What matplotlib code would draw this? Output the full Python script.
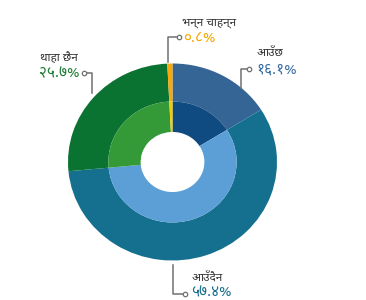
import matplotlib
matplotlib.use("Agg")
import matplotlib.pyplot as plt
from matplotlib.lines import Line2D

# ------------------------------------------------------------
# Data
# ------------------------------------------------------------
labels = ["आउँछ", "आउँदैन", "थाहा छैन", "भन्न चाहन्न"]
values = [16.1, 57.4, 25.7, 0.8]
pct_text = ["१६.१%", "५७.४%", "२५.७%", "०.८%"]

outer_colors = ["#356595", "#15708f", "#0b7332", "#f5a90f"]
inner_colors = ["#0f4a80", "#5b9fd6", "#339a37", "#f0cc00"]
text_colors = ["#3a6ea5", "#1a7090", "#1e7b34", "#f5a800"]

plt.rcParams["font.family"] = ["Noto Sans Devanagari", "DejaVu Sans"]

W, H = 366, 300
fig = plt.figure(figsize=(W / 100, H / 100), dpi=100)

# pie centre / radii in pixels
cx, cy = 172.5, 162
rx, ry = 104.5, 98.5
ax = fig.add_axes([(cx - rx) / W, (H - cy - ry) / H, 2 * rx / W, 2 * ry / H])

ax.pie(values, radius=1, colors=outer_colors, startangle=90, counterclock=False,
       wedgeprops=dict(width=1 - 0.614, linewidth=0))
ax.pie(values, radius=0.614, colors=inner_colors, startangle=90, counterclock=False,
       wedgeprops=dict(width=0.614 - 0.305, linewidth=0))
ax.set_aspect("auto")
ax.set_xlim(-1, 1)
ax.set_ylim(-1, 1)
ax.axis("off")


def fx(x):
    return x / W


def fy(y):
    return 1 - y / H


def connector(points, dot):
    xs = [fx(p[0]) for p in points]
    ys = [fy(p[1]) for p in points]
    fig.add_artist(Line2D(xs, ys, color="#707070", lw=1.1, transform=fig.transFigure))
    fig.add_artist(Line2D([fx(dot[0])], [fy(dot[1])], marker="o", ms=3.2, mfc="white",
                          mec="#707070", mew=0.9, transform=fig.transFigure))


# label positions (pixels): name, percent, connector
# आउँछ
fig.text(fx(257), fy(53), labels[0], fontsize=8.5, color="#333333", va="center", ha="left")
fig.text(fx(256), fy(70), pct_text[0], fontsize=11, color=text_colors[0], va="center", ha="left")
connector([(248, 69), (241, 69), (241, 88)], (249, 69))

# आउँदैन
fig.text(fx(192), fy(278), labels[1], fontsize=8.5, color="#333333", va="center", ha="left")
fig.text(fx(191), fy(293), pct_text[1], fontsize=11, color=text_colors[1], va="center", ha="left")
connector([(173, 265), (173, 294), (184, 294)], (185, 294))

# थाहा छैन
fig.text(fx(40), fy(58), labels[2], fontsize=8.5, color="#333333", va="center", ha="left")
fig.text(fx(39), fy(74), pct_text[2], fontsize=11, color=text_colors[2], va="center", ha="left")
connector([(85, 73), (92, 73), (92, 93)], (84, 73))

# भन्न चाहन्न
fig.text(fx(182), fy(22), labels[3], fontsize=8.5, color="#333333", va="center", ha="left")
fig.text(fx(183), fy(39), pct_text[3], fontsize=11, color=text_colors[3], va="center", ha="left")
connector([(178, 37), (168, 37), (168, 62)], (179, 37))

fig.savefig("out.png", dpi=100)
